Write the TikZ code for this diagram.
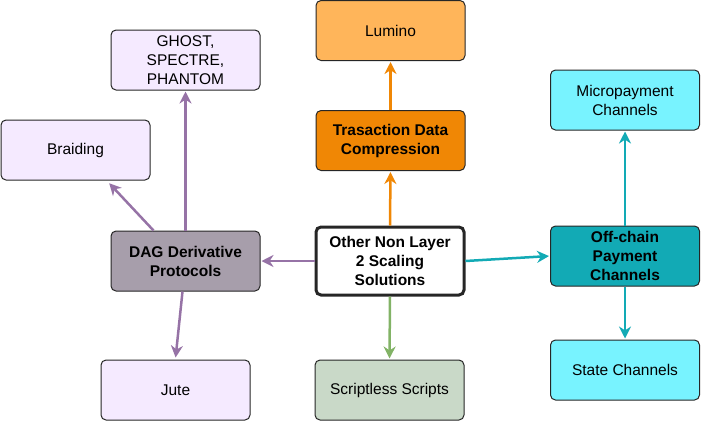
\documentclass[tikz,border=0pt]{standalone}
\usepackage{fontspec}
\setmainfont{Liberation Sans}
\usepackage{xcolor}
\usetikzlibrary{arrows.meta}

\definecolor{lumino}{HTML}{FFB55A}
\definecolor{orangeb}{HTML}{F08705}
\definecolor{dagfill}{HTML}{A79EAB}
\definecolor{purplel}{HTML}{F5EAFF}
\definecolor{purplearr}{HTML}{9673A6}
\definecolor{tealb}{HTML}{12AAB5}
\definecolor{cyanl}{HTML}{78F3FF}
\definecolor{greenl}{HTML}{C9D9C8}
\definecolor{greenarr}{HTML}{82B366}

\tikzset{
  box/.style={draw=black!85, line width=1pt, rounded corners=5pt,
    minimum width=149pt, minimum height=60pt, inner sep=2pt, align=center,
    font=\fontsize{15.5}{19}\selectfont},
  hub/.style={box, font=\fontsize{15.5}{19}\selectfont\bfseries},
  arr/.style={->, line width=2.5pt, shorten >=1pt},
}

\begin{document}
\begin{tikzpicture}[x=1pt,y=-1pt,>={Stealth[length=12pt,width=12pt]}]
  \useasboundingbox (0,0) rectangle (701,421);
  % Centre
  \node[hub, fill=white, line width=3pt, minimum width=148pt, minimum height=68pt] (other) at (390,261) {Other Non Layer\\2 Scaling\\Solutions};
  % Compression branch
  \node[hub, fill=orangeb] (trans) at (390.5,140.5) {Trasaction Data\\Compression};
  \node[box, fill=lumino] (lumino) at (390.5,30.5) {Lumino};
  % DAG branch
  \node[hub, fill=dagfill] (dag) at (185.5,261) {DAG Derivative\\Protocols};
  \node[box, fill=purplel] (ghost) at (185.5,60) {GHOST,\\SPECTRE,\\PHANTOM};
  \node[box, fill=purplel] (braid) at (75.5,150) {Braiding};
  \node[box, fill=purplel] (jute) at (175.5,390) {Jute};
  % Off-chain branch
  \node[hub, fill=tealb] (offchain) at (625,256) {Off-chain\\Payment\\Channels};
  \node[box, fill=cyanl] (micro) at (625,100) {Micropayment\\Channels};
  \node[box, fill=cyanl] (state) at (625,370) {State Channels};
  % Scriptless
  \node[box, fill=greenl] (scriptless) at (389.5,390) {Scriptless Scripts};
  % Arrows
  \draw[arr, orangeb] (other.north) -- (trans.south);
  \draw[arr, orangeb] (trans.north) -- (lumino.south);
  \draw[arr, purplearr] (other.west) -- (dag.east);
  \draw[arr, purplearr] (dag.north) -- (ghost.south);
  \draw[arr, purplearr] ([xshift=-32pt]dag.north) -- ([xshift=33pt,yshift=-2pt]braid.south);
  \draw[arr, purplearr] ([xshift=-3pt]dag.south) -- ([yshift=1pt]jute.north);
  \draw[arr, tealb] (other.east) -- (offchain.west);
  \draw[arr, tealb] (offchain.north) -- (micro.south);
  \draw[arr, tealb] (offchain.south) -- (state.north);
  \draw[arr, greenarr] (other.south) -- (scriptless.north);
\end{tikzpicture}
\end{document}
